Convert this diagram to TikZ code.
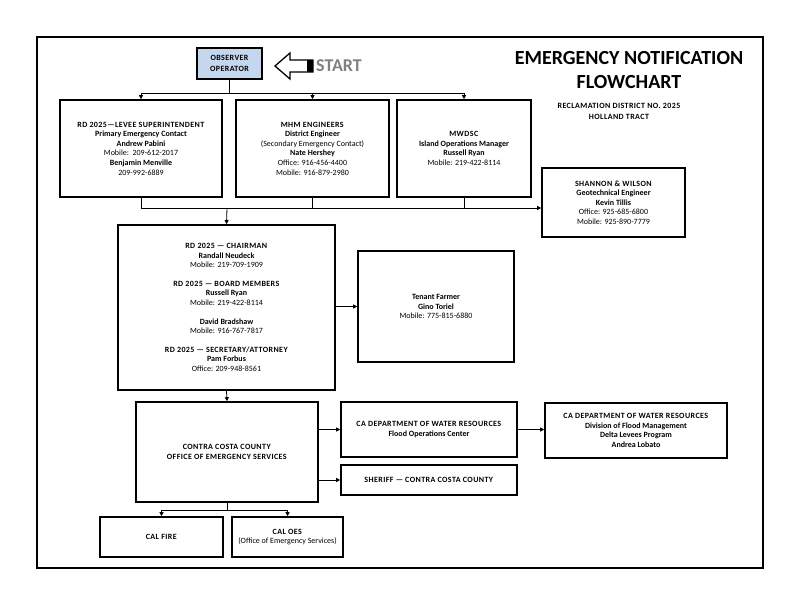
\documentclass[tikz,border=0pt]{standalone}
\usepackage{fontspec}
\setmainfont{Carlito}
\usetikzlibrary{arrows.meta}

\definecolor{azulobs}{RGB}{197,215,238}
\definecolor{grisinicio}{RGB}{128,128,128}

% mayusculas espaciadas
\newcommand\mayus[1]{{\addfontfeatures{LetterSpace=5}#1}}

\tikzset{
  caja/.style={draw, line width=1.6pt, align=center, inner sep=2pt,
    font=\fontsize{8}{9.6}\selectfont},
  flecha/.style={line width=0.8pt, -{Triangle[length=4pt,width=4pt]}},
  linea/.style={line width=0.8pt},
}

\begin{document}
\begin{tikzpicture}[x=1pt,y=-1pt]
        % Paso 1: Fija el marco de la hoja
        \useasboundingbox (0,0) rectangle (792,612);
        \draw[line width=1.2pt] (37,37) rectangle (763,568);

        % Paso 2: Titulo y subtitulo
        \node[font=\fontsize{20}{24}\selectfont\bfseries, align=center] (titulo) at (629,70)
          {EMERGENCY NOTIFICATION\\FLOWCHART};
        \node[font=\fontsize{8}{11}\selectfont\bfseries, align=center] (distrito) at (619,111)
          {\mayus{RECLAMATION DISTRICT NO. 2025}\\\mayus{HOLLAND TRACT}};

        % Paso 3: Caja del observador y flecha de inicio
        \node[caja, fill=azulobs, minimum width=65pt, minimum height=31pt,
          font=\fontsize{8}{11}\selectfont\bfseries] (obs) at (229.5,63.5)
          {\mayus{OBSERVER}\\\mayus{OPERATOR}};
        \draw[line width=1.3pt, fill=white] (275,66) -- (290,53) -- (290,60) -- (313,60)
          -- (313,72) -- (290,72) -- (290,79) -- cycle;
        \fill (307,60) rectangle (313,72);
        \node[font=\fontsize{18}{20}\selectfont\bfseries, text=grisinicio, inner sep=0pt,
          anchor=west] (inicio) at (316,66) {START};

        % Paso 4: Primera fila de contactos
        \node[caja, minimum width=162pt, minimum height=97pt] (levee) at (141,148.5)
          {\textbf{\mayus{RD 2025---LEVEE SUPERINTENDENT}}\\\textbf{Primary Emergency Contact}\\
           \textbf{Andrew Pabini}\\Mobile:\ \ 209-612-2017\\\textbf{Benjamin Menville}\\209-992-6889};
        \node[caja, minimum width=153pt, minimum height=97pt] (mhm) at (312.5,148.5)
          {\textbf{\mayus{MHM ENGINEERS}}\\\textbf{District Engineer}\\(Secondary Emergency Contact)\\
           \textbf{Nate Hershey}\\Office: 916-456-4400\\Mobile: 916-879-2980};
        \node[caja, minimum width=134pt, minimum height=97pt] (mwdsc) at (464,148.5)
          {\textbf{\mayus{MWDSC}}\\\textbf{Island Operations Manager}\\\textbf{Russell Ryan}\\Mobile: 219-422-8114};
        \node[caja, minimum width=143pt, minimum height=69pt] (shannon) at (613.5,202.5)
          {\textbf{\mayus{SHANNON \& WILSON}}\\\textbf{Geotechnical Engineer}\\\textbf{Kevin Tillis}\\
           Office: 925-685-6800\\Mobile: 925-890-7779};

        % Paso 5: Conectores de la primera fila
        \coordinate (j1) at (229.5,93);
        \coordinate (j2) at (227,208);
        \draw[linea] (obs.south) -- (j1);
        \draw[linea] (levee.north |- j1) -- (mwdsc.north |- j1);
        \draw[flecha] (levee.north |- j1) -- (levee.north);
        \draw[flecha] (mhm.north |- j1) -- (mhm.north);
        \draw[flecha] (mwdsc.north |- j1) -- (mwdsc.north);
        \draw[linea] (levee.south) -- (levee.south |- j2);
        \draw[linea] (mhm.south) -- (mhm.south |- j2);
        \draw[linea] (mwdsc.south) -- (mwdsc.south |- j2);
        \draw[flecha] (levee.south |- j2) -- (shannon.west |- j2);

        % Paso 6: Junta directiva y arrendatario
        \node[caja, minimum width=217pt, minimum height=165pt] (junta) at (226.5,307.5)
          {\textbf{\mayus{RD 2025 --- CHAIRMAN}}\\\textbf{Randall Neudeck}\\Mobile: 219-709-1909\\[9pt]
           \textbf{\mayus{RD 2025 --- BOARD MEMBERS}}\\\textbf{Russell Ryan}\\Mobile: 219-422-8114\\[9pt]
           \textbf{David Bradshaw}\\Mobile: 916-767-7817\\[9pt]
           \textbf{\mayus{RD 2025 --- SECRETARY/ATTORNEY}}\\\textbf{Pam Forbus}\\Office: 209-948-8561};
        \node[caja, minimum width=156pt, minimum height=111pt] (tenant) at (436,306.5)
          {\textbf{Tenant Farmer}\\\textbf{Gino Toriel}\\Mobile: 775-815-6880};
        \draw[flecha] (j2) -- (junta.north);
        \draw[flecha] (junta.east |- tenant.west) -- (tenant.west);

        % Paso 7: Condado y agencias estatales
        \node[caja, minimum width=182pt, minimum height=100pt] (contra) at (227,452)
          {\textbf{\mayus{CONTRA COSTA COUNTY}}\\\textbf{\mayus{OFFICE OF EMERGENCY SERVICES}}};
        \node[caja, minimum width=176pt, minimum height=55pt] (dwr) at (429,429.5)
          {\textbf{\mayus{CA DEPARTMENT OF WATER RESOURCES}}\\\textbf{Flood Operations Center}};
        \node[caja, minimum width=176pt, minimum height=30pt] (sheriff) at (429,480)
          {\textbf{\mayus{SHERIFF --- CONTRA COSTA COUNTY}}};
        \node[caja, minimum width=182pt, minimum height=55pt] (dwrdos) at (636,430.5)
          {\textbf{\mayus{CA DEPARTMENT OF WATER RESOURCES}}\\\textbf{Division of Flood Management}\\
           \textbf{Delta Levees Program}\\\textbf{Andrea Lobato}};
        \draw[flecha] (junta.south) -- (contra.north);
        \draw[flecha] (contra.east |- dwr.west) -- (dwr.west);
        \draw[flecha] (contra.east |- sheriff.west) -- (sheriff.west);
        \draw[flecha] (dwr.east) -- (dwrdos.west |- dwr.east);

        % Paso 8: Bomberos y OES estatal
        \node[caja, minimum width=123pt, minimum height=40pt] (fire) at (161.5,537)
          {\textbf{\mayus{CAL FIRE}}};
        \node[caja, minimum width=111pt, minimum height=40pt] (oes) at (287.5,537)
          {\textbf{\mayus{CAL OES}}\\(Office of Emergency Services)};
        \coordinate (j3) at (227,510);
        \draw[linea] (contra.south) -- (j3);
        \draw[linea] (fire.north |- j3) -- (oes.north |- j3);
        \draw[flecha] (fire.north |- j3) -- (fire.north);
        \draw[flecha] (oes.north |- j3) -- (oes.north);
    \end{tikzpicture}
\end{document}
